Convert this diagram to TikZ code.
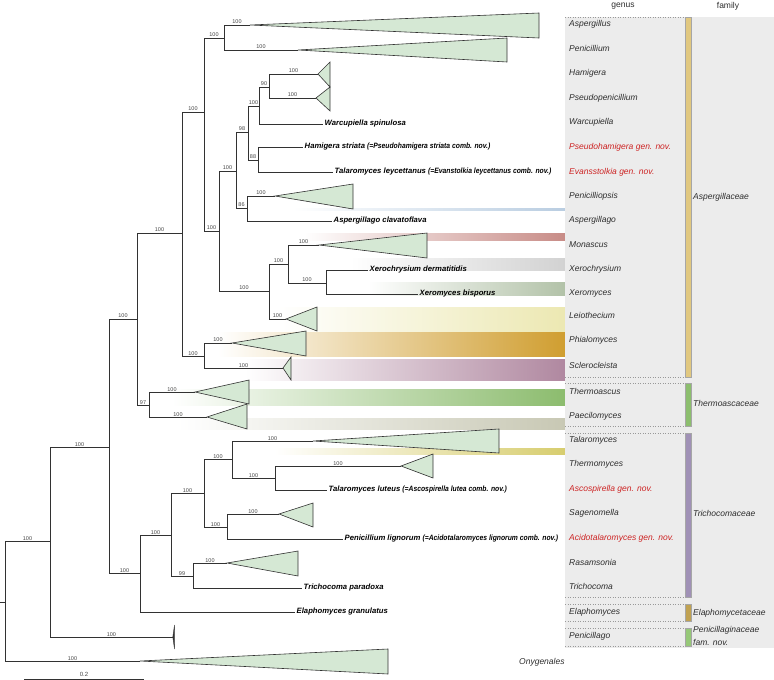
\documentclass[tikz,border=0pt]{standalone}
\usepackage{fontspec}
\setmainfont{Liberation Sans}
\definecolor{brc}{RGB}{50,50,50}
\definecolor{lbl}{RGB}{70,70,70}
\definecolor{cladefill}{RGB}{213,232,212}
\definecolor{gtext}{RGB}{45,45,45}
\definecolor{gnov}{RGB}{205,35,35}
\definecolor{panel}{RGB}{236,236,236}
\definecolor{cPcp}{RGB}{185,205,225}
\definecolor{cMon}{RGB}{200,140,135}
\definecolor{cXch}{RGB}{210,210,210}
\definecolor{cXer}{RGB}{178,194,168}
\definecolor{cLei}{RGB}{236,232,178}
\definecolor{cPhi}{RGB}{208,158,48}
\definecolor{cScl}{RGB}{176,136,160}
\definecolor{cTha}{RGB}{140,188,110}
\definecolor{cPae}{RGB}{200,200,180}
\definecolor{cTal}{RGB}{215,205,110}
\definecolor{fAsp}{RGB}{225,200,128}
\definecolor{fThe}{RGB}{140,190,110}
\definecolor{fTri}{RGB}{160,145,182}
\definecolor{fEla}{RGB}{192,162,82}
\definecolor{fPcg}{RGB}{150,200,120}
\newcommand{\paren}[1]{\scalebox{0.88}[1]{#1}}
\begin{document}
\begin{tikzpicture}[x=1pt,y=-1pt,
  br/.style={draw=brc,line width=0.7pt},
  bs/.style={font=\fontsize{5.5}{6}\selectfont,text=lbl,inner sep=0.6pt,above},
  clade/.style={fill=cladefill,draw=brc,line width=0.6pt},
  tip/.style={right,inner sep=1.5pt,font=\fontsize{7.7}{9}\selectfont\bfseries\itshape},
  gen/.style={right,inner sep=0pt,font=\fontsize{8.5}{10}\selectfont\itshape,text=gtext,text height=6.2pt,text depth=1.8pt},
  nov/.style={gen,text=gnov},
  head/.style={inner sep=0pt,font=\fontsize{8.5}{10}\selectfont,text=gtext},
  sep/.style={draw=gray!80,dotted,line width=0.5pt},
  fam/.style={draw=gray!70,line width=0.4pt}]
\useasboundingbox (0,0) rectangle (774,680);
% gradient bars
\shade[left color=white,right color=cPcp] (293,208) rectangle (565,210);
\shade[left color=white,right color=cMon] (304,233) rectangle (565,240);
\shade[left color=white,right color=cXch] (350,258) rectangle (565,270);
\shade[left color=white,right color=cXer] (368,282) rectangle (565,295);
\shade[left color=white,right color=cLei] (278,307) rectangle (565,331);
\shade[left color=white,right color=cPhi] (218,332) rectangle (565,356);
\shade[left color=white,right color=cScl] (245,359) rectangle (565,380);
\shade[left color=white,right color=cTha] (172,389) rectangle (565,405);
\shade[left color=white,right color=cPae] (177,418) rectangle (565,429);
\shade[left color=white,right color=cTal] (275,448) rectangle (565,454);
% panel
\fill[panel] (565,17) rectangle (774,648);
\foreach \yy in {17,377,383,426,433,597,604,621,628,646}
  \draw[sep] (565,\yy) -- (683,\yy);
\draw[fam,fill=fAsp] (685,17) rectangle (691,377);
\draw[fam,fill=fThe] (685,383) rectangle (691,426);
\draw[fam,fill=fTri] (685,433) rectangle (691,597);
\draw[fam,fill=fEla] (685,604) rectangle (691,621);
\draw[fam,fill=fPcg] (685,628) rectangle (691,646);
% headers
\node[head] (hgen) at (623,6) {genus};
\node[head] (hfam) at (728,6) {family};
% genus column
\node[gen] (g1) at (569,24) {Aspergillus};
\node[gen] (g2) at (569,49) {Penicillium};
\node[gen] (g3) at (569,73) {Hamigera};
\node[gen] (g4) at (569,98) {Pseudopenicillium};
\node[gen] (g5) at (569,122) {Warcupiella};
\node[nov] (g6) at (569,147) {Pseudohamigera gen. nov.};
\node[nov] (g7) at (569,172) {Evansstolkia gen. nov.};
\node[gen] (g8) at (569,196) {Penicilliopsis};
\node[gen] (g9) at (569,220) {Aspergillago};
\node[gen] (g10) at (569,245) {Monascus};
\node[gen] (g11) at (569,269) {Xerochrysium};
\node[gen] (g12) at (569,293) {Xeromyces};
\node[gen] (g13) at (569,316) {Leiothecium};
\node[gen] (g14) at (569,340) {Phialomyces};
\node[gen] (g15) at (569,366) {Sclerocleista};
\node[gen] (g16) at (569,392) {Thermoascus};
\node[gen] (g17) at (569,416) {Paecilomyces};
\node[gen] (g18) at (569,440) {Talaromyces};
\node[gen] (g19) at (569,464) {Thermomyces};
\node[nov] (g20) at (569,489) {Ascospirella gen. nov.};
\node[gen] (g21) at (569,513) {Sagenomella};
\node[nov] (g22) at (569,538) {Acidotalaromyces gen. nov.};
\node[gen] (g23) at (569,563) {Rasamsonia};
\node[gen] (g24) at (569,587) {Trichocoma};
\node[gen] (g25) at (569,612) {Elaphomyces};
\node[gen] (g26) at (569,636) {Penicillago};
\node[gen] (gony) at (519,662) {Onygenales};
% family column
\node[gen] (f1) at (693,197) {Aspergillaceae};
\node[gen] (f2) at (693,404) {Thermoascaceae};
\node[gen] (f3) at (693,514) {Trichocomaceae};
\node[gen] (f4) at (693,613) {Elaphomycetaceae};
\node[gen] (f5) at (693,630) {Penicillaginaceae};
\node[gen] (f6) at (693,643) {fam. nov.};
% tree coordinates
\coordinate (stem) at (0,602);
\coordinate (root) at (5,602);
\coordinate (n1) at (50,541);
\coordinate (n2) at (109,447);
\coordinate (n3) at (137,319);
\coordinate (n4) at (182,233);
\coordinate (n5) at (204,112);
\coordinate (n6) at (224,38);
\coordinate (n7) at (219,231);
\coordinate (n8) at (236,171);
\coordinate (n9) at (248,132);
\coordinate (n10) at (259,106);
\coordinate (n11) at (269,87);
\coordinate (n12) at (258,160);
\coordinate (n13) at (247,208);
\coordinate (n14) at (269,291);
\coordinate (n15) at (288,264);
\coordinate (n16) at (326,283);
\coordinate (n17) at (204,356);
\coordinate (n18) at (149,405);
\coordinate (n19) at (140,573);
\coordinate (n20) at (171,535);
\coordinate (n21) at (204,493);
\coordinate (n22) at (232,459);
\coordinate (n23) at (275,478);
\coordinate (n24) at (227,527);
\coordinate (n25) at (193,576);
% clade apexes
\coordinate (aAsp) at (250,25);
\coordinate (aPen) at (298,50);
\coordinate (aHam) at (318,74);
\coordinate (aPsp) at (316,98);
\coordinate (aPcp) at (275,196);
\coordinate (aMon) at (319,245);
\coordinate (aLei) at (286,319);
\coordinate (aPhi) at (232,343);
\coordinate (aScl) at (283,368);
\coordinate (aTha) at (195,392);
\coordinate (aPae) at (207,417);
\coordinate (aTal) at (313,441);
\coordinate (aThm) at (401,466);
\coordinate (aSag) at (279,514);
\coordinate (aRas) at (227,563);
\coordinate (aPcg) at (172.8,637);
\coordinate (aOny) at (140,661);
% tip ends
\coordinate (tWar) at (323,124);
\coordinate (tHst) at (303,147);
\coordinate (tTle) at (333,172);
\coordinate (tAgo) at (332,221);
\coordinate (tXch) at (368,270);
\coordinate (tXer) at (418,294);
\coordinate (tTlu) at (327,490);
\coordinate (tPli) at (343,539);
\coordinate (tTri) at (302,588);
\coordinate (tEla) at (295,612);
% collapsed clades
\draw[clade] (aAsp) -- (539,13) -- (539,38) -- cycle;
\draw[clade] (aPen) -- (507,38) -- (507,62) -- cycle;
\draw[clade] (aHam) -- (330,62) -- (330,87) -- cycle;
\draw[clade] (aPsp) -- (330,87) -- (330,111) -- cycle;
\draw[clade] (aPcp) -- (353,184) -- (353,209) -- cycle;
\draw[clade] (aMon) -- (427,233) -- (427,258) -- cycle;
\draw[clade] (aLei) -- (317,307) -- (317,331) -- cycle;
\draw[clade] (aPhi) -- (306,331) -- (306,356) -- cycle;
\draw[clade] (aScl) -- (291,357) -- (291,380) -- cycle;
\draw[clade] (aTha) -- (249,380) -- (249,404) -- cycle;
\draw[clade] (aPae) -- (247,404) -- (247,429) -- cycle;
\draw[clade] (aTal) -- (499,429) -- (499,453) -- cycle;
\draw[clade] (aThm) -- (433,454) -- (433,478) -- cycle;
\draw[clade] (aSag) -- (313,503) -- (313,527) -- cycle;
\draw[clade] (aRas) -- (298,551) -- (298,576) -- cycle;
\draw[clade] (aOny) -- (388,649) -- (388,674) -- cycle;
\draw[brc,fill=brc,line width=0.4pt] (aPcg) -- (174.5,625) -- (174.5,649) -- cycle;
% branches
\draw[br] (stem) -- (root);
\draw[br] (root) |- (n1) node[bs,pos=0.75]{100};
\draw[br] (root) |- (aOny) node[bs,pos=0.75]{100};
\draw[br] (n1) |- (n2) node[bs,pos=0.75]{100};
\draw[br] (n1) |- (aPcg) node[bs,pos=0.75]{100};
\draw[br] (n2) |- (n3) node[bs,pos=0.75]{100};
\draw[br] (n2) |- (n19) node[bs,pos=0.75]{100};
\draw[br] (n3) |- (n4) node[bs,pos=0.75]{100};
\draw[br] (n3) |- (n18) node[bs,pos=0.75]{97};
\draw[br] (n4) |- (n5) node[bs,pos=0.75]{100};
\draw[br] (n4) |- (n17) node[bs,pos=0.75]{100};
\draw[br] (n5) |- (n6) node[bs,pos=0.75]{100};
\draw[br] (n5) |- (n7) node[bs,pos=0.75]{100};
\draw[br] (n6) |- (aAsp) node[bs,pos=0.75]{100};
\draw[br] (n6) |- (aPen) node[bs,pos=0.75]{100};
\draw[br] (n7) |- (n8) node[bs,pos=0.75]{100};
\draw[br] (n7) |- (n14) node[bs,pos=0.75]{100};
\draw[br] (n8) |- (n9) node[bs,pos=0.75]{98};
\draw[br] (n8) |- (n13) node[bs,pos=0.75]{86};
\draw[br] (n9) |- (n10) node[bs,pos=0.75]{100};
\draw[br] (n9) |- (n12) node[bs,pos=0.75]{88};
\draw[br] (n10) |- (n11) node[bs,pos=0.75]{90};
\draw[br] (n10) |- (tWar);
\draw[br] (n11) |- (aHam) node[bs,pos=0.75]{100};
\draw[br] (n11) |- (aPsp) node[bs,pos=0.75]{100};
\draw[br] (n12) |- (tHst);
\draw[br] (n12) |- (tTle);
\draw[br] (n13) |- (aPcp) node[bs,pos=0.75]{100};
\draw[br] (n13) |- (tAgo);
\draw[br] (n14) |- (n15) node[bs,pos=0.75]{100};
\draw[br] (n14) |- (aLei) node[bs,pos=0.75]{100};
\draw[br] (n15) |- (aMon) node[bs,pos=0.75]{100};
\draw[br] (n15) |- (n16) node[bs,pos=0.75]{100};
\draw[br] (n16) |- (tXch);
\draw[br] (n16) |- (tXer);
\draw[br] (n17) |- (aPhi) node[bs,pos=0.75]{100};
\draw[br] (n17) |- (aScl) node[bs,pos=0.75]{100};
\draw[br] (n18) |- (aTha) node[bs,pos=0.75]{100};
\draw[br] (n18) |- (aPae) node[bs,pos=0.75]{100};
\draw[br] (n19) |- (n20) node[bs,pos=0.75]{100};
\draw[br] (n19) |- (tEla);
\draw[br] (n20) |- (n21) node[bs,pos=0.75]{100};
\draw[br] (n20) |- (n25) node[bs,pos=0.75]{99};
\draw[br] (n21) |- (n22) node[bs,pos=0.75]{100};
\draw[br] (n21) |- (n24) node[bs,pos=0.75]{100};
\draw[br] (n22) |- (aTal) node[bs,pos=0.75]{100};
\draw[br] (n22) |- (n23) node[bs,pos=0.75]{100};
\draw[br] (n23) |- (aThm) node[bs,pos=0.75]{100};
\draw[br] (n23) |- (tTlu);
\draw[br] (n24) |- (aSag) node[bs,pos=0.75]{100};
\draw[br] (n24) |- (tPli);
\draw[br] (n25) |- (aRas) node[bs,pos=0.75]{100};
\draw[br] (n25) |- (tTri);
% tip labels
\node[tip] (lWar) at (tWar) {Warcupiella spinulosa};
\node[tip] (lHst) at (tHst) {Hamigera striata \paren{(=Pseudohamigera striata comb. nov.)}};
\node[tip] (lTle) at (tTle) {Talaromyces leycettanus \paren{(=Evanstolkia leycettanus comb. nov.)}};
\node[tip] (lAgo) at (tAgo) {Aspergillago clavatoflava};
\node[tip] (lXch) at (tXch) {Xerochrysium dermatitidis};
\node[tip] (lXer) at (tXer) {Xeromyces bisporus};
\node[tip] (lTlu) at (tTlu) {Talaromyces luteus \paren{(=Ascospirella lutea comb. nov.)}};
\node[tip] (lPli) at (tPli) {Penicillium lignorum \paren{(=Acidotalaromyces lignorum comb. nov.)}};
\node[tip] (lTri) at (tTri) {Trichocoma paradoxa};
\node[tip] (lEla) at (tEla) {Elaphomyces granulatus};
% scale bar
\coordinate (sbL) at (24,679);
\coordinate (sbR) at (144,679);
\draw[br] (sbL) -- (sbR) node[midway,above=2pt,font=\fontsize{6}{7}\selectfont,text=lbl,inner sep=0pt] (sbt) {0.2};
\end{tikzpicture}
\end{document}
